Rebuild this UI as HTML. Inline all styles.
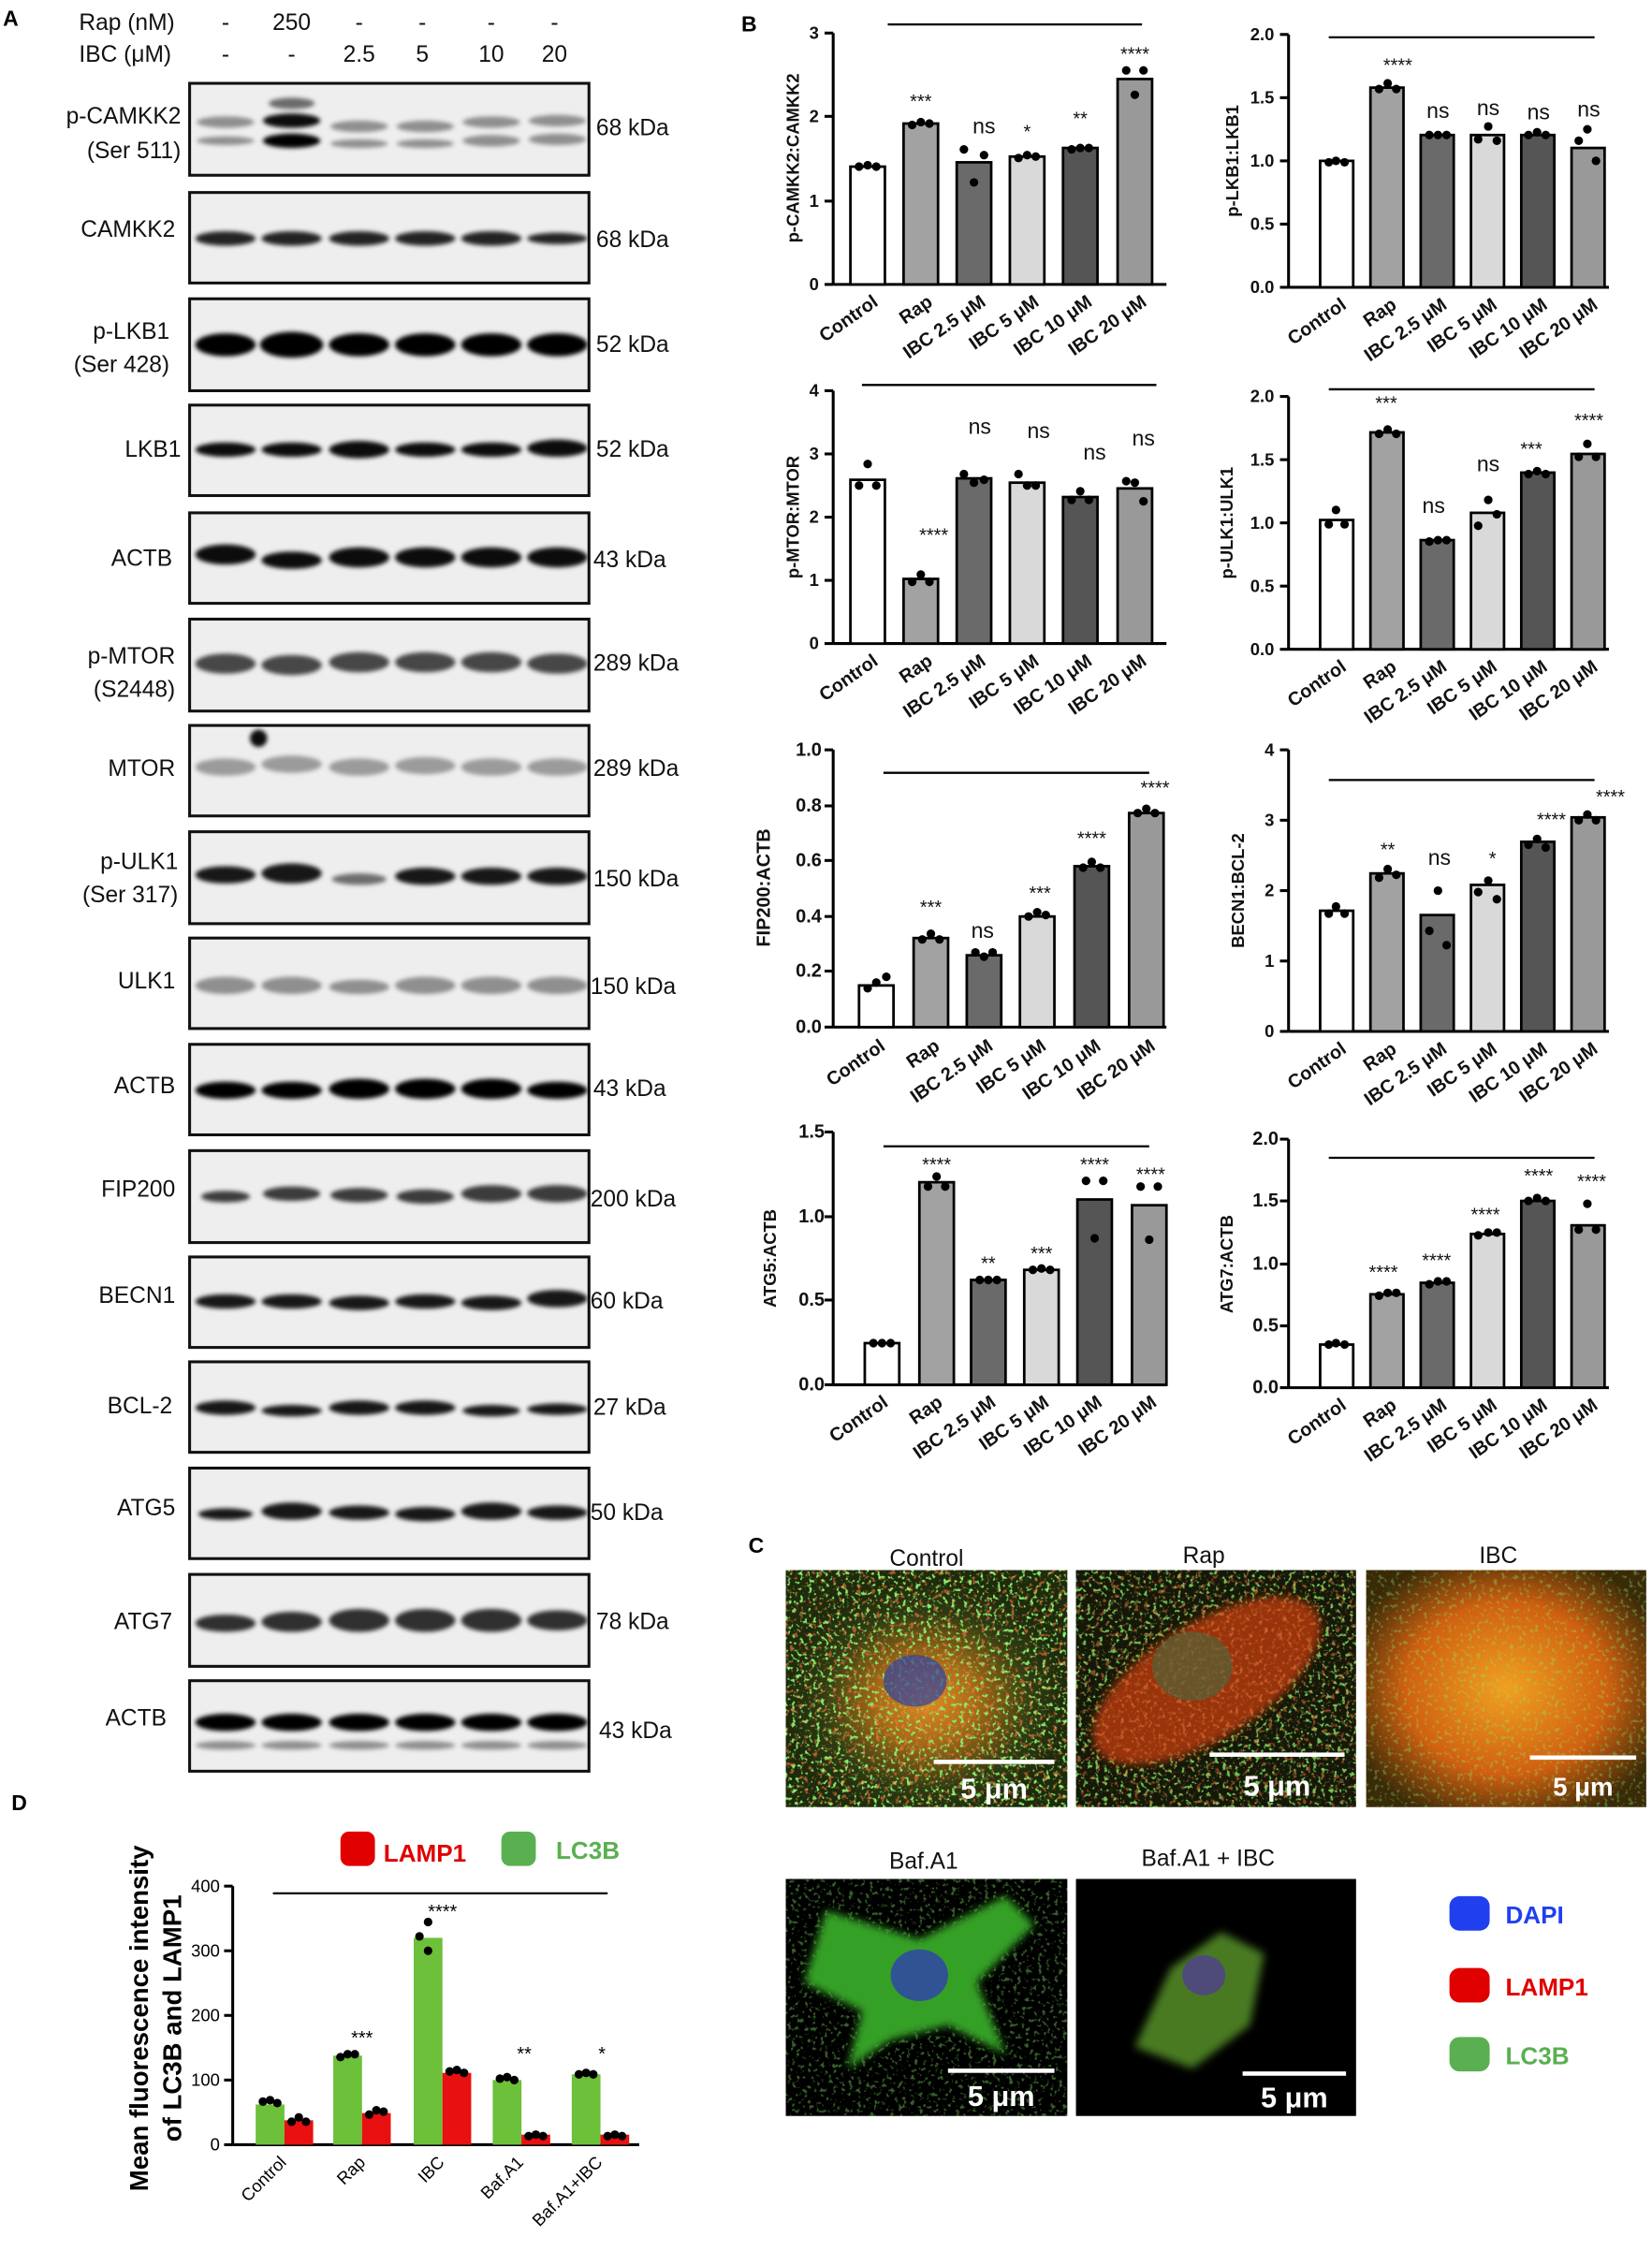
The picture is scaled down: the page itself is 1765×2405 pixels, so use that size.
<!DOCTYPE html>
<html><head><meta charset="utf-8"><style>
html,body{margin:0;padding:0;background:#fff;}
svg{display:block;}
text{font-family:"Liberation Sans",Arial,sans-serif;}
</style></head><body>
<svg width="1765" height="2405" viewBox="0 0 1150 1567" preserveAspectRatio="none" xmlns="http://www.w3.org/2000/svg">
<defs>
<filter id="bl" x="-50%" y="-100%" width="200%" height="300%"><feGaussianBlur stdDeviation="1.6"/></filter>
<filter id="bl2"><feGaussianBlur stdDeviation="3"/></filter>
<filter id="spG" x="0" y="0" width="100%" height="100%"><feTurbulence type="fractalNoise" baseFrequency="0.35" numOctaves="2" seed="3"/><feColorMatrix values="0 0 0 0 0.25  0 0 0 0 0.85  0 0 0 0 0.15  7 0 0 0 -4"/></filter>
<filter id="spR" x="0" y="0" width="100%" height="100%"><feTurbulence type="fractalNoise" baseFrequency="0.3" numOctaves="2" seed="9"/><feColorMatrix values="0 0 0 0 0.95  0 0 0 0 0.2  0 0 0 0 0.05  7 0 0 0 -4.1"/></filter>
<radialGradient id="cellA" cx="50%" cy="55%" r="50%"><stop offset="0" stop-color="#e08a20"/><stop offset="0.35" stop-color="#a86a18"/><stop offset="0.75" stop-color="#2e3a12"/><stop offset="1" stop-color="#1e2a0c"/></radialGradient>
<radialGradient id="cellC" cx="50%" cy="50%" r="60%"><stop offset="0" stop-color="#f0a020"/><stop offset="0.6" stop-color="#d06010"/><stop offset="1" stop-color="#3a2a08"/></radialGradient>
</defs>
<rect width="1150" height="1567" fill="#fff"/>

<!-- Panel A -->
<text x="2" y="18" font-size="15" font-weight="bold">A</text>
<g font-size="16" fill="#111">
<text x="55" y="21">Rap (nM)</text><text x="55" y="43">IBC (μM)</text>
<g text-anchor="middle">
<text x="157" y="21">-</text><text x="203" y="21">250</text><text x="250" y="21">-</text><text x="294" y="21">-</text><text x="342" y="21">-</text><text x="386" y="21">-</text>
<text x="157" y="43">-</text><text x="203" y="43">-</text><text x="250" y="43">2.5</text><text x="294" y="43">5</text><text x="342" y="43">10</text><text x="386" y="43">20</text>
</g></g>

<g stroke="#111" stroke-width="2" fill="#eeeeee">
<rect x="132" y="58" width="278" height="64"/><rect x="132" y="134" width="278" height="63"/>
<rect x="132" y="208" width="278" height="64"/><rect x="132" y="282" width="278" height="63"/>
<rect x="132" y="357" width="278" height="63"/><rect x="132" y="431" width="278" height="64"/>
<rect x="132" y="505" width="278" height="63"/><rect x="132" y="579" width="278" height="64"/>
<rect x="132" y="653" width="278" height="63"/><rect x="132" y="727" width="278" height="63"/>
<rect x="132" y="801" width="278" height="64"/><rect x="132" y="875" width="278" height="63"/>
<rect x="132" y="948" width="278" height="63"/><rect x="132" y="1022" width="278" height="63"/>
<rect x="132" y="1096" width="278" height="64"/><rect x="132" y="1170" width="278" height="63"/>
</g>
<g filter="url(#bl)" fill="#000">
<g opacity="0.4"><ellipse cx="157" cy="85" rx="20" ry="4"/><ellipse cx="250" cy="88" rx="20" ry="4"/><ellipse cx="296" cy="88" rx="20" ry="4"/><ellipse cx="342" cy="85" rx="20" ry="4"/><ellipse cx="388" cy="84" rx="20" ry="4"/>
<ellipse cx="157" cy="98" rx="20" ry="3"/><ellipse cx="250" cy="100" rx="20" ry="3"/><ellipse cx="296" cy="100" rx="20" ry="3"/><ellipse cx="342" cy="98" rx="20" ry="4"/><ellipse cx="388" cy="97" rx="20" ry="4"/></g>
<ellipse cx="203" cy="84" rx="20" ry="5" opacity="0.95"/><ellipse cx="203" cy="98" rx="20" ry="5" opacity="1"/><ellipse cx="203" cy="72" rx="16" ry="4" opacity="0.55"/>
<g opacity="0.85"><ellipse cx="157" cy="166" rx="21" ry="5"/><ellipse cx="203" cy="166" rx="21" ry="5"/><ellipse cx="250" cy="166" rx="21" ry="5"/><ellipse cx="296" cy="166" rx="21" ry="5"/><ellipse cx="342" cy="166" rx="21" ry="5"/><ellipse cx="388" cy="166" rx="21" ry="4"/></g>
<g opacity="1"><ellipse cx="157" cy="240" rx="21" ry="8"/><ellipse cx="203" cy="240" rx="22" ry="9"/><ellipse cx="250" cy="240" rx="21" ry="8"/><ellipse cx="296" cy="240" rx="21" ry="8"/><ellipse cx="342" cy="240" rx="21" ry="8"/><ellipse cx="388" cy="240" rx="21" ry="8"/></g>
<g opacity="0.95"><ellipse cx="157" cy="313" rx="21" ry="5"/><ellipse cx="203" cy="313" rx="21" ry="5"/><ellipse cx="250" cy="313" rx="21" ry="6"/><ellipse cx="296" cy="313" rx="21" ry="5"/><ellipse cx="342" cy="313" rx="21" ry="5"/><ellipse cx="388" cy="312" rx="21" ry="6"/></g>
<g opacity="0.95"><ellipse cx="157" cy="386" rx="21" ry="7"/><ellipse cx="203" cy="390" rx="21" ry="6"/><ellipse cx="250" cy="388" rx="21" ry="7"/><ellipse cx="296" cy="388" rx="21" ry="7"/><ellipse cx="342" cy="388" rx="21" ry="7"/><ellipse cx="388" cy="388" rx="21" ry="7"/></g>
<g opacity="0.7"><ellipse cx="157" cy="462" rx="21" ry="7"/><ellipse cx="203" cy="463" rx="21" ry="7"/><ellipse cx="250" cy="461" rx="21" ry="7"/><ellipse cx="296" cy="461" rx="21" ry="7"/><ellipse cx="342" cy="461" rx="21" ry="7"/><ellipse cx="388" cy="462" rx="21" ry="7"/></g>
<g opacity="0.35"><ellipse cx="157" cy="534" rx="21" ry="6"/><ellipse cx="203" cy="532" rx="21" ry="6"/><ellipse cx="250" cy="534" rx="21" ry="6"/><ellipse cx="296" cy="533" rx="21" ry="6"/><ellipse cx="342" cy="534" rx="21" ry="6"/><ellipse cx="388" cy="534" rx="21" ry="6"/></g>
<ellipse cx="180" cy="514" rx="6" ry="6" opacity="0.95"/>
<g opacity="0.9"><ellipse cx="157" cy="609" rx="21" ry="6"/><ellipse cx="203" cy="608" rx="21" ry="7"/><ellipse cx="250" cy="612" rx="19" ry="4" opacity="0.6"/><ellipse cx="296" cy="610" rx="21" ry="6"/><ellipse cx="342" cy="610" rx="21" ry="6"/><ellipse cx="388" cy="610" rx="21" ry="6"/></g>
<g opacity="0.4"><ellipse cx="157" cy="686" rx="21" ry="6"/><ellipse cx="203" cy="686" rx="21" ry="6"/><ellipse cx="250" cy="687" rx="21" ry="5"/><ellipse cx="296" cy="686" rx="21" ry="6"/><ellipse cx="342" cy="686" rx="21" ry="6"/><ellipse cx="388" cy="686" rx="21" ry="6"/></g>
<g opacity="1"><ellipse cx="157" cy="759" rx="21" ry="6"/><ellipse cx="203" cy="759" rx="21" ry="6"/><ellipse cx="250" cy="758" rx="21" ry="7"/><ellipse cx="296" cy="758" rx="21" ry="7"/><ellipse cx="342" cy="758" rx="21" ry="7"/><ellipse cx="388" cy="759" rx="21" ry="6"/></g>
<g opacity="0.75"><ellipse cx="157" cy="833" rx="17" ry="4"/><ellipse cx="203" cy="831" rx="20" ry="5"/><ellipse cx="250" cy="832" rx="20" ry="5"/><ellipse cx="296" cy="833" rx="20" ry="5"/><ellipse cx="342" cy="831" rx="21" ry="6"/><ellipse cx="388" cy="831" rx="21" ry="6"/></g>
<g opacity="0.9"><ellipse cx="157" cy="906" rx="21" ry="5"/><ellipse cx="203" cy="906" rx="21" ry="5"/><ellipse cx="250" cy="907" rx="21" ry="5"/><ellipse cx="296" cy="906" rx="21" ry="5"/><ellipse cx="342" cy="907" rx="21" ry="5"/><ellipse cx="388" cy="904" rx="21" ry="6"/></g>
<g opacity="0.9"><ellipse cx="157" cy="980" rx="21" ry="5"/><ellipse cx="203" cy="982" rx="21" ry="4"/><ellipse cx="250" cy="980" rx="21" ry="5"/><ellipse cx="296" cy="980" rx="21" ry="5"/><ellipse cx="342" cy="982" rx="20" ry="4"/><ellipse cx="388" cy="981" rx="21" ry="4"/></g>
<g opacity="0.9"><ellipse cx="157" cy="1054" rx="19" ry="4"/><ellipse cx="203" cy="1052" rx="21" ry="6"/><ellipse cx="250" cy="1053" rx="21" ry="5"/><ellipse cx="296" cy="1054" rx="21" ry="5"/><ellipse cx="342" cy="1052" rx="21" ry="6"/><ellipse cx="388" cy="1053" rx="21" ry="5"/></g>
<g opacity="0.8"><ellipse cx="157" cy="1130" rx="21" ry="6"/><ellipse cx="203" cy="1129" rx="21" ry="7"/><ellipse cx="250" cy="1128" rx="21" ry="8"/><ellipse cx="296" cy="1128" rx="21" ry="8"/><ellipse cx="342" cy="1128" rx="21" ry="8"/><ellipse cx="388" cy="1128" rx="21" ry="7"/></g>
<g opacity="1"><ellipse cx="157" cy="1199" rx="21" ry="6"/><ellipse cx="203" cy="1199" rx="21" ry="6"/><ellipse cx="250" cy="1199" rx="21" ry="6"/><ellipse cx="296" cy="1199" rx="21" ry="6"/><ellipse cx="342" cy="1199" rx="21" ry="6"/><ellipse cx="388" cy="1199" rx="21" ry="6"/></g>
<g opacity="0.4"><ellipse cx="157" cy="1215" rx="21" ry="3"/><ellipse cx="203" cy="1215" rx="21" ry="3"/><ellipse cx="250" cy="1215" rx="21" ry="3"/><ellipse cx="296" cy="1215" rx="21" ry="3"/><ellipse cx="342" cy="1215" rx="21" ry="3"/><ellipse cx="388" cy="1215" rx="21" ry="3"/></g>
</g>

<g font-size="16" fill="#111" text-anchor="end">
<text x="126" y="86">p-CAMKK2</text><text x="126" y="110">(Ser 511)</text>
<text x="122" y="165">CAMKK2</text>
<text x="118" y="236">p-LKB1</text><text x="118" y="259">(Ser 428)</text>
<text x="126" y="318">LKB1</text>
<text x="120" y="394">ACTB</text>
<text x="122" y="462">p-MTOR</text><text x="122" y="485">(S2448)</text>
<text x="122" y="540">MTOR</text>
<text x="124" y="605">p-ULK1</text><text x="124" y="628">(Ser 317)</text>
<text x="122" y="688">ULK1</text>
<text x="122" y="761">ACTB</text>
<text x="122" y="833">FIP200</text>
<text x="122" y="907">BECN1</text>
<text x="120" y="984">BCL-2</text>
<text x="122" y="1055">ATG5</text>
<text x="120" y="1134">ATG7</text>
<text x="116" y="1201">ACTB</text>
</g>
<g font-size="16" fill="#111">
<text x="415" y="94">68 kDa</text><text x="415" y="172">68 kDa</text><text x="415" y="245">52 kDa</text><text x="415" y="318">52 kDa</text>
<text x="413" y="395">43 kDa</text><text x="413" y="467">289 kDa</text><text x="413" y="540">289 kDa</text><text x="413" y="617">150 kDa</text>
<text x="411" y="692">150 kDa</text><text x="413" y="763">43 kDa</text><text x="411" y="840">200 kDa</text><text x="411" y="911">60 kDa</text>
<text x="413" y="985">27 kDa</text><text x="411" y="1058">50 kDa</text><text x="415" y="1134">78 kDa</text><text x="417" y="1210">43 kDa</text>
</g>

<!-- Panel B -->
<text x="516" y="22" font-size="15" font-weight="bold">B</text>
<g font-size="12" font-weight="bold" fill="#111">
<g>
<line x1="580" y1="23" x2="580" y2="198" stroke="#000" stroke-width="2"/>
<line x1="580" y1="198" x2="812" y2="198" stroke="#000" stroke-width="2"/>
<g stroke="#000" stroke-width="2"><line x1="574" y1="23" x2="580" y2="23"/><line x1="574" y1="81" x2="580" y2="81"/><line x1="574" y1="140" x2="580" y2="140"/><line x1="574" y1="198" x2="580" y2="198"/></g>
<g text-anchor="end"><text x="570" y="27">3</text><text x="570" y="85">2</text><text x="570" y="144">1</text><text x="570" y="202">0</text></g>
<text transform="translate(556 110) rotate(-90)" text-anchor="middle">p-CAMKK2:CAMKK2</text>
<line x1="618" y1="17" x2="795" y2="17" stroke="#000" stroke-width="1.5"/>
<g stroke="#000" stroke-width="1.8">
<rect x="592" y="116" width="24" height="82" fill="#fff"/><rect x="629" y="86" width="24" height="112" fill="#a2a2a2"/><rect x="666" y="113" width="24" height="85" fill="#6a6a6a"/><rect x="703" y="109" width="24" height="89" fill="#d9d9d9"/><rect x="740" y="103" width="24" height="95" fill="#555"/><rect x="778" y="55" width="24" height="143" fill="#999"/>
</g>
<g fill="#000"><circle cx="598" cy="116" r="3"/><circle cx="604" cy="115" r="3"/><circle cx="610" cy="116" r="3"/><circle cx="635" cy="87" r="3"/><circle cx="641" cy="85" r="3"/><circle cx="647" cy="86" r="3"/><circle cx="671" cy="104" r="3"/><circle cx="678" cy="127" r="3"/><circle cx="685" cy="108" r="3"/><circle cx="709" cy="110" r="3"/><circle cx="715" cy="108" r="3"/><circle cx="721" cy="109" r="3"/><circle cx="746" cy="104" r="3"/><circle cx="752" cy="103" r="3"/><circle cx="758" cy="103" r="3"/><circle cx="784" cy="49" r="3"/><circle cx="790" cy="66" r="3"/><circle cx="796" cy="49" r="3"/></g>
<g text-anchor="middle" font-weight="normal" font-size="13"><text x="641" y="75">***</text><text x="685" y="93" font-size="15">ns</text><text x="715" y="96">*</text><text x="752" y="87">**</text><text x="790" y="42">****</text></g>
<g text-anchor="end" font-size="13"><text transform="translate(612 212) rotate(-35)">Control</text><text transform="translate(650 212) rotate(-35)">Rap</text><text transform="translate(687 212) rotate(-35)">IBC 2.5 μM</text><text transform="translate(724 212) rotate(-35)">IBC 5 μM</text><text transform="translate(761 212) rotate(-35)">IBC 10 μM</text><text transform="translate(799 212) rotate(-35)">IBC 20 μM</text></g>
</g>
<g>
<line x1="897" y1="24" x2="897" y2="200" stroke="#000" stroke-width="2"/>
<line x1="897" y1="200" x2="1120" y2="200" stroke="#000" stroke-width="2"/>
<g stroke="#000" stroke-width="2"><line x1="891" y1="24" x2="897" y2="24"/><line x1="891" y1="68" x2="897" y2="68"/><line x1="891" y1="112" x2="897" y2="112"/><line x1="891" y1="156" x2="897" y2="156"/><line x1="891" y1="200" x2="897" y2="200"/></g>
<g text-anchor="end"><text x="887" y="28">2.0</text><text x="887" y="72">1.5</text><text x="887" y="116">1.0</text><text x="887" y="160">0.5</text><text x="887" y="204">0.0</text></g>
<text transform="translate(862 112) rotate(-90)" text-anchor="middle">p-LKB1:LKB1</text>
<line x1="925" y1="26" x2="1110" y2="26" stroke="#000" stroke-width="1.5"/>
<g stroke="#000" stroke-width="1.8">
<rect x="919" y="112" width="23" height="88" fill="#fff"/><rect x="954" y="61" width="23" height="139" fill="#a2a2a2"/><rect x="989" y="94" width="23" height="106" fill="#6a6a6a"/><rect x="1024" y="94" width="23" height="106" fill="#d9d9d9"/><rect x="1059" y="94" width="23" height="106" fill="#555"/><rect x="1094" y="103" width="23" height="97" fill="#999"/>
</g>
<g fill="#000"><circle cx="925" cy="113" r="3"/><circle cx="930" cy="112" r="3"/><circle cx="936" cy="113" r="3"/><circle cx="960" cy="62" r="3"/><circle cx="966" cy="58" r="3"/><circle cx="972" cy="62" r="3"/><circle cx="995" cy="94" r="3"/><circle cx="1001" cy="94" r="3"/><circle cx="1007" cy="94" r="3"/><circle cx="1029" cy="97" r="3"/><circle cx="1036" cy="88" r="3"/><circle cx="1042" cy="98" r="3"/><circle cx="1064" cy="94" r="3"/><circle cx="1070" cy="92" r="3"/><circle cx="1076" cy="94" r="3"/><circle cx="1099" cy="98" r="3"/><circle cx="1105" cy="90" r="3"/><circle cx="1111" cy="112" r="3"/></g>
<g text-anchor="middle" font-weight="normal" font-size="15"><text x="973" y="50" font-size="13">****</text><text x="1001" y="82">ns</text><text x="1036" y="80">ns</text><text x="1071" y="83">ns</text><text x="1106" y="81">ns</text></g>
<g text-anchor="end" font-size="13"><text transform="translate(938 214) rotate(-35)">Control</text><text transform="translate(973 214) rotate(-35)">Rap</text><text transform="translate(1008 214) rotate(-35)">IBC 2.5 μM</text><text transform="translate(1043 214) rotate(-35)">IBC 5 μM</text><text transform="translate(1078 214) rotate(-35)">IBC 10 μM</text><text transform="translate(1113 214) rotate(-35)">IBC 20 μM</text></g>
</g>
<g>
<line x1="580" y1="272" x2="580" y2="448" stroke="#000" stroke-width="2"/>
<line x1="580" y1="448" x2="812" y2="448" stroke="#000" stroke-width="2"/>
<g stroke="#000" stroke-width="2"><line x1="574" y1="272" x2="580" y2="272"/><line x1="574" y1="316" x2="580" y2="316"/><line x1="574" y1="360" x2="580" y2="360"/><line x1="574" y1="404" x2="580" y2="404"/><line x1="574" y1="448" x2="580" y2="448"/></g>
<g text-anchor="end"><text x="570" y="276">4</text><text x="570" y="320">3</text><text x="570" y="364">2</text><text x="570" y="408">1</text><text x="570" y="452">0</text></g>
<text transform="translate(556 360) rotate(-90)" text-anchor="middle">p-MTOR:MTOR</text>
<line x1="600" y1="268" x2="805" y2="268" stroke="#000" stroke-width="1.5"/>
<g stroke="#000" stroke-width="1.8">
<rect x="592" y="334" width="24" height="114" fill="#fff"/><rect x="629" y="403" width="24" height="45" fill="#a2a2a2"/><rect x="666" y="333" width="24" height="115" fill="#6a6a6a"/><rect x="703" y="336" width="24" height="112" fill="#d9d9d9"/><rect x="740" y="346" width="24" height="102" fill="#555"/><rect x="778" y="340" width="24" height="108" fill="#999"/>
</g>
<g fill="#000"><circle cx="598" cy="338" r="3"/><circle cx="604" cy="323" r="3"/><circle cx="610" cy="338" r="3"/><circle cx="635" cy="405" r="3"/><circle cx="641" cy="400" r="3"/><circle cx="647" cy="405" r="3"/><circle cx="671" cy="330" r="3"/><circle cx="678" cy="336" r="3"/><circle cx="685" cy="334" r="3"/><circle cx="709" cy="330" r="3"/><circle cx="715" cy="338" r="3"/><circle cx="721" cy="338" r="3"/><circle cx="746" cy="348" r="3"/><circle cx="752" cy="342" r="3"/><circle cx="758" cy="348" r="3"/><circle cx="784" cy="335" r="3"/><circle cx="790" cy="336" r="3"/><circle cx="796" cy="349" r="3"/></g>
<g text-anchor="middle" font-weight="normal" font-size="15"><text x="650" y="377" font-size="13">****</text><text x="682" y="302">ns</text><text x="723" y="305">ns</text><text x="762" y="320">ns</text><text x="796" y="310">ns</text></g>
<g text-anchor="end" font-size="13"><text transform="translate(612 462) rotate(-35)">Control</text><text transform="translate(650 462) rotate(-35)">Rap</text><text transform="translate(687 462) rotate(-35)">IBC 2.5 μM</text><text transform="translate(724 462) rotate(-35)">IBC 5 μM</text><text transform="translate(761 462) rotate(-35)">IBC 10 μM</text><text transform="translate(799 462) rotate(-35)">IBC 20 μM</text></g>
</g>
<g>
<line x1="897" y1="276" x2="897" y2="452" stroke="#000" stroke-width="2"/>
<line x1="897" y1="452" x2="1120" y2="452" stroke="#000" stroke-width="2"/>
<g stroke="#000" stroke-width="2"><line x1="891" y1="276" x2="897" y2="276"/><line x1="891" y1="320" x2="897" y2="320"/><line x1="891" y1="364" x2="897" y2="364"/><line x1="891" y1="408" x2="897" y2="408"/><line x1="891" y1="452" x2="897" y2="452"/></g>
<g text-anchor="end"><text x="887" y="280">2.0</text><text x="887" y="324">1.5</text><text x="887" y="368">1.0</text><text x="887" y="412">0.5</text><text x="887" y="456">0.0</text></g>
<text transform="translate(858 364) rotate(-90)" text-anchor="middle">p-ULK1:ULK1</text>
<line x1="925" y1="271" x2="1110" y2="271" stroke="#000" stroke-width="1.5"/>
<g stroke="#000" stroke-width="1.8">
<rect x="919" y="362" width="23" height="90" fill="#fff"/><rect x="954" y="301" width="23" height="151" fill="#a2a2a2"/><rect x="989" y="376" width="23" height="76" fill="#6a6a6a"/><rect x="1024" y="357" width="23" height="95" fill="#d9d9d9"/><rect x="1059" y="329" width="23" height="123" fill="#555"/><rect x="1094" y="316" width="23" height="136" fill="#999"/>
</g>
<g fill="#000"><circle cx="925" cy="365" r="3"/><circle cx="930" cy="355" r="3"/><circle cx="936" cy="365" r="3"/><circle cx="960" cy="302" r="3"/><circle cx="966" cy="299" r="3"/><circle cx="972" cy="302" r="3"/><circle cx="995" cy="377" r="3"/><circle cx="1001" cy="376" r="3"/><circle cx="1007" cy="376" r="3"/><circle cx="1029" cy="366" r="3"/><circle cx="1036" cy="348" r="3"/><circle cx="1042" cy="358" r="3"/><circle cx="1064" cy="330" r="3"/><circle cx="1070" cy="328" r="3"/><circle cx="1076" cy="330" r="3"/><circle cx="1099" cy="318" r="3"/><circle cx="1105" cy="309" r="3"/><circle cx="1111" cy="318" r="3"/></g>
<g text-anchor="middle" font-weight="normal" font-size="15"><text x="965" y="285" font-size="13">***</text><text x="998" y="357">ns</text><text x="1036" y="328">ns</text><text x="1066" y="317" font-size="13">***</text><text x="1106" y="297" font-size="13">****</text></g>
<g text-anchor="end" font-size="13"><text transform="translate(938 466) rotate(-35)">Control</text><text transform="translate(973 466) rotate(-35)">Rap</text><text transform="translate(1008 466) rotate(-35)">IBC 2.5 μM</text><text transform="translate(1043 466) rotate(-35)">IBC 5 μM</text><text transform="translate(1078 466) rotate(-35)">IBC 10 μM</text><text transform="translate(1113 466) rotate(-35)">IBC 20 μM</text></g>
</g>
<g>
<line x1="580" y1="522" x2="580" y2="715" stroke="#000" stroke-width="2"/>
<line x1="580" y1="715" x2="812" y2="715" stroke="#000" stroke-width="2"/>
<g stroke="#000" stroke-width="2"><line x1="574" y1="522" x2="580" y2="522"/><line x1="574" y1="561" x2="580" y2="561"/><line x1="574" y1="599" x2="580" y2="599"/><line x1="574" y1="638" x2="580" y2="638"/><line x1="574" y1="676" x2="580" y2="676"/><line x1="574" y1="715" x2="580" y2="715"/></g>
<g text-anchor="end" font-size="13"><text x="572" y="526">1.0</text><text x="572" y="565">0.8</text><text x="572" y="603">0.6</text><text x="572" y="642">0.4</text><text x="572" y="680">0.2</text><text x="572" y="719">0.0</text></g>
<text transform="translate(536 618) rotate(-90)" text-anchor="middle" font-size="13">FIP200:ACTB</text>
<line x1="615" y1="538" x2="800" y2="538" stroke="#000" stroke-width="1.5"/>
<g stroke="#000" stroke-width="1.8">
<rect x="598" y="686" width="24" height="29" fill="#fff"/><rect x="636" y="653" width="24" height="62" fill="#a2a2a2"/><rect x="673" y="665" width="24" height="50" fill="#6a6a6a"/><rect x="710" y="638" width="24" height="77" fill="#d9d9d9"/><rect x="748" y="603" width="24" height="112" fill="#555"/><rect x="786" y="566" width="24" height="149" fill="#999"/>
</g>
<g fill="#000"><circle cx="604" cy="688" r="3"/><circle cx="610" cy="684" r="3"/><circle cx="617" cy="680" r="3"/><circle cx="642" cy="654" r="3"/><circle cx="648" cy="650" r="3"/><circle cx="654" cy="654" r="3"/><circle cx="679" cy="663" r="3"/><circle cx="685" cy="666" r="3"/><circle cx="691" cy="663" r="3"/><circle cx="716" cy="638" r="3"/><circle cx="722" cy="635" r="3"/><circle cx="728" cy="637" r="3"/><circle cx="754" cy="604" r="3"/><circle cx="760" cy="600" r="3"/><circle cx="766" cy="604" r="3"/><circle cx="792" cy="566" r="3"/><circle cx="798" cy="563" r="3"/><circle cx="804" cy="566" r="3"/></g>
<g text-anchor="middle" font-weight="normal" font-size="13"><text x="648" y="636">***</text><text x="684" y="653" font-size="15">ns</text><text x="724" y="626">***</text><text x="760" y="588">****</text><text x="804" y="553">****</text></g>
<g text-anchor="end" font-size="13"><text transform="translate(617 730) rotate(-35)">Control</text><text transform="translate(655 730) rotate(-35)">Rap</text><text transform="translate(692 730) rotate(-35)">IBC 2.5 μM</text><text transform="translate(729 730) rotate(-35)">IBC 5 μM</text><text transform="translate(767 730) rotate(-35)">IBC 10 μM</text><text transform="translate(805 730) rotate(-35)">IBC 20 μM</text></g>
</g>
<g>
<line x1="897" y1="522" x2="897" y2="718" stroke="#000" stroke-width="2"/>
<line x1="897" y1="718" x2="1120" y2="718" stroke="#000" stroke-width="2"/>
<g stroke="#000" stroke-width="2"><line x1="891" y1="522" x2="897" y2="522"/><line x1="891" y1="571" x2="897" y2="571"/><line x1="891" y1="620" x2="897" y2="620"/><line x1="891" y1="669" x2="897" y2="669"/><line x1="891" y1="718" x2="897" y2="718"/></g>
<g text-anchor="end"><text x="887" y="526">4</text><text x="887" y="575">3</text><text x="887" y="624">2</text><text x="887" y="673">1</text><text x="887" y="722">0</text></g>
<text transform="translate(866 620) rotate(-90)" text-anchor="middle">BECN1:BCL-2</text>
<line x1="925" y1="543" x2="1110" y2="543" stroke="#000" stroke-width="1.5"/>
<g stroke="#000" stroke-width="1.8">
<rect x="919" y="634" width="23" height="84" fill="#fff"/><rect x="954" y="608" width="23" height="110" fill="#a2a2a2"/><rect x="989" y="637" width="23" height="81" fill="#6a6a6a"/><rect x="1024" y="616" width="23" height="102" fill="#d9d9d9"/><rect x="1059" y="586" width="23" height="132" fill="#555"/><rect x="1094" y="569" width="23" height="149" fill="#999"/>
</g>
<g fill="#000"><circle cx="925" cy="636" r="3"/><circle cx="930" cy="631" r="3"/><circle cx="936" cy="636" r="3"/><circle cx="960" cy="611" r="3"/><circle cx="966" cy="605" r="3"/><circle cx="972" cy="609" r="3"/><circle cx="995" cy="648" r="3"/><circle cx="1001" cy="620" r="3"/><circle cx="1007" cy="658" r="3"/><circle cx="1029" cy="621" r="3"/><circle cx="1036" cy="613" r="3"/><circle cx="1042" cy="626" r="3"/><circle cx="1064" cy="588" r="3"/><circle cx="1070" cy="584" r="3"/><circle cx="1076" cy="590" r="3"/><circle cx="1099" cy="571" r="3"/><circle cx="1105" cy="567" r="3"/><circle cx="1111" cy="571" r="3"/></g>
<g text-anchor="middle" font-weight="normal" font-size="13"><text x="966" y="596">**</text><text x="1002" y="602" font-size="15">ns</text><text x="1039" y="602">*</text><text x="1080" y="575">****</text><text x="1121" y="559">****</text></g>
<g text-anchor="end" font-size="13"><text transform="translate(938 732) rotate(-35)">Control</text><text transform="translate(973 732) rotate(-35)">Rap</text><text transform="translate(1008 732) rotate(-35)">IBC 2.5 μM</text><text transform="translate(1043 732) rotate(-35)">IBC 5 μM</text><text transform="translate(1078 732) rotate(-35)">IBC 10 μM</text><text transform="translate(1113 732) rotate(-35)">IBC 20 μM</text></g>
</g>
<g>
<line x1="580" y1="788" x2="580" y2="964" stroke="#000" stroke-width="2"/>
<line x1="580" y1="964" x2="812" y2="964" stroke="#000" stroke-width="2"/>
<g stroke="#000" stroke-width="2"><line x1="574" y1="788" x2="580" y2="788"/><line x1="574" y1="847" x2="580" y2="847"/><line x1="574" y1="905" x2="580" y2="905"/><line x1="574" y1="964" x2="580" y2="964"/></g>
<g text-anchor="end" font-size="13"><text x="574" y="792">1.5</text><text x="574" y="851">1.0</text><text x="574" y="909">0.5</text><text x="574" y="968">0.0</text></g>
<text transform="translate(540 876) rotate(-90)" text-anchor="middle">ATG5:ACTB</text>
<line x1="615" y1="798" x2="800" y2="798" stroke="#000" stroke-width="1.5"/>
<g stroke="#000" stroke-width="1.8">
<rect x="602" y="935" width="24" height="29" fill="#fff"/><rect x="640" y="823" width="24" height="141" fill="#a2a2a2"/><rect x="676" y="891" width="24" height="73" fill="#6a6a6a"/><rect x="713" y="884" width="24" height="80" fill="#d9d9d9"/><rect x="750" y="835" width="24" height="129" fill="#555"/><rect x="788" y="839" width="24" height="125" fill="#999"/>
</g>
<g fill="#000"><circle cx="608" cy="935" r="3"/><circle cx="614" cy="935" r="3"/><circle cx="620" cy="935" r="3"/><circle cx="646" cy="826" r="3"/><circle cx="652" cy="819" r="3"/><circle cx="658" cy="826" r="3"/><circle cx="682" cy="891" r="3"/><circle cx="688" cy="891" r="3"/><circle cx="694" cy="891" r="3"/><circle cx="719" cy="884" r="3"/><circle cx="725" cy="883" r="3"/><circle cx="731" cy="884" r="3"/><circle cx="756" cy="822" r="3"/><circle cx="762" cy="862" r="3"/><circle cx="768" cy="822" r="3"/><circle cx="794" cy="826" r="3"/><circle cx="800" cy="863" r="3"/><circle cx="806" cy="826" r="3"/></g>
<g text-anchor="middle" font-weight="normal" font-size="13"><text x="652" y="815">****</text><text x="688" y="884">**</text><text x="725" y="877">***</text><text x="762" y="815">****</text><text x="801" y="822">****</text></g>
<g text-anchor="end" font-size="13"><text transform="translate(619 978) rotate(-35)">Control</text><text transform="translate(657 978) rotate(-35)">Rap</text><text transform="translate(694 978) rotate(-35)">IBC 2.5 μM</text><text transform="translate(731 978) rotate(-35)">IBC 5 μM</text><text transform="translate(768 978) rotate(-35)">IBC 10 μM</text><text transform="translate(806 978) rotate(-35)">IBC 20 μM</text></g>
</g>
<g>
<line x1="897" y1="793" x2="897" y2="966" stroke="#000" stroke-width="2"/>
<line x1="897" y1="966" x2="1120" y2="966" stroke="#000" stroke-width="2"/>
<g stroke="#000" stroke-width="2"><line x1="891" y1="793" x2="897" y2="793"/><line x1="891" y1="836" x2="897" y2="836"/><line x1="891" y1="880" x2="897" y2="880"/><line x1="891" y1="923" x2="897" y2="923"/><line x1="891" y1="966" x2="897" y2="966"/></g>
<g text-anchor="end" font-size="13"><text x="890" y="797">2.0</text><text x="890" y="840">1.5</text><text x="890" y="884">1.0</text><text x="890" y="927">0.5</text><text x="890" y="970">0.0</text></g>
<text transform="translate(858 880) rotate(-90)" text-anchor="middle">ATG7:ACTB</text>
<line x1="925" y1="806" x2="1110" y2="806" stroke="#000" stroke-width="1.5"/>
<g stroke="#000" stroke-width="1.8">
<rect x="919" y="936" width="23" height="30" fill="#fff"/><rect x="954" y="901" width="23" height="65" fill="#a2a2a2"/><rect x="989" y="893" width="23" height="73" fill="#6a6a6a"/><rect x="1024" y="859" width="23" height="107" fill="#d9d9d9"/><rect x="1059" y="836" width="23" height="130" fill="#555"/><rect x="1094" y="853" width="23" height="113" fill="#999"/>
</g>
<g fill="#000"><circle cx="925" cy="936" r="3"/><circle cx="930" cy="935" r="3"/><circle cx="936" cy="936" r="3"/><circle cx="960" cy="902" r="3"/><circle cx="966" cy="900" r="3"/><circle cx="972" cy="900" r="3"/><circle cx="995" cy="894" r="3"/><circle cx="1001" cy="892" r="3"/><circle cx="1007" cy="892" r="3"/><circle cx="1029" cy="860" r="3"/><circle cx="1036" cy="858" r="3"/><circle cx="1042" cy="858" r="3"/><circle cx="1064" cy="836" r="3"/><circle cx="1070" cy="834" r="3"/><circle cx="1076" cy="836" r="3"/><circle cx="1099" cy="856" r="3"/><circle cx="1105" cy="838" r="3"/><circle cx="1111" cy="856" r="3"/></g>
<g text-anchor="middle" font-weight="normal" font-size="13"><text x="963" y="890">****</text><text x="1000" y="882">****</text><text x="1034" y="850">****</text><text x="1071" y="823">****</text><text x="1108" y="827">****</text></g>
<g text-anchor="end" font-size="13"><text transform="translate(938 980) rotate(-35)">Control</text><text transform="translate(973 980) rotate(-35)">Rap</text><text transform="translate(1008 980) rotate(-35)">IBC 2.5 μM</text><text transform="translate(1043 980) rotate(-35)">IBC 5 μM</text><text transform="translate(1078 980) rotate(-35)">IBC 10 μM</text><text transform="translate(1113 980) rotate(-35)">IBC 20 μM</text></g>
</g>
</g>

<!-- Panel C -->
<text x="521" y="1081" font-size="15" font-weight="bold">C</text>
<g font-size="16" text-anchor="middle" fill="#111">
<text x="645" y="1090">Control</text><text x="838" y="1088">Rap</text><text x="1043" y="1088">IBC</text>
<text x="643" y="1301">Baf.A1</text><text x="841" y="1299">Baf.A1   + IBC</text>
</g>
<rect x="547" y="1093" width="196" height="165" fill="url(#cellA)"/>
<rect x="547" y="1093" width="196" height="165" filter="url(#spG)"/>
<rect x="547" y="1093" width="196" height="165" filter="url(#spR)" opacity="0.6"/>
<ellipse cx="637" cy="1170" rx="22" ry="18" fill="#3040a0" opacity="0.7"/>
<rect x="749" y="1093" width="195" height="165" fill="#151808"/>
<rect x="749" y="1093" width="195" height="165" filter="url(#spG)" opacity="0.8"/>
<ellipse cx="840" cy="1170" rx="90" ry="40" fill="#b03810" opacity="0.85" filter="url(#bl2)" transform="rotate(-32 840 1170)"/>
<rect x="749" y="1093" width="195" height="165" filter="url(#spR)" opacity="0.5"/>
<ellipse cx="830" cy="1160" rx="28" ry="24" fill="#4a6a40" opacity="0.6"/>
<rect x="951" y="1093" width="195" height="165" fill="url(#cellC)"/>
<rect x="951" y="1093" width="195" height="165" filter="url(#spG)" opacity="0.35"/>
<rect x="547" y="1308" width="196" height="165" fill="#000"/>
<rect x="547" y="1308" width="196" height="165" filter="url(#spG)" opacity="0.4"/>
<path d="M575 1330 L640 1350 L700 1320 L720 1340 L680 1380 L700 1430 L660 1410 L620 1420 L590 1440 L600 1400 L560 1380 Z" fill="#35a025" filter="url(#bl2)"/>
<ellipse cx="640" cy="1375" rx="20" ry="18" fill="#3040b0" opacity="0.8"/>
<rect x="749" y="1308" width="195" height="165" fill="#000"/>
<path d="M790 1425 L815 1370 L850 1345 L880 1360 L870 1410 L830 1440 Z" fill="#4a7a20" filter="url(#bl2)"/>
<ellipse cx="838" cy="1375" rx="15" ry="14" fill="#504090" opacity="0.8"/>
<g fill="#fff" font-size="20" font-weight="bold" text-anchor="middle">
<rect x="650" y="1225" width="84" height="3"/><text x="692" y="1252">5 μm</text>
<rect x="842" y="1220" width="94" height="3"/><text x="889" y="1250">5 μm</text>
<rect x="1065" y="1222" width="74" height="3"/><text x="1102" y="1250" font-size="18">5 μm</text>
<rect x="660" y="1440" width="74" height="3"/><text x="697" y="1466">5 μm</text>
<rect x="865" y="1442" width="72" height="3"/><text x="901" y="1467">5 μm</text>
</g>
<g font-size="17" font-weight="bold">
<rect x="1009" y="1320" width="28" height="24" rx="7" fill="#2040f0"/><text x="1048" y="1339" fill="#2040f0">DAPI</text>
<rect x="1009" y="1370" width="28" height="24" rx="7" fill="#e00000"/><text x="1048" y="1389" fill="#e00000">LAMP1</text>
<rect x="1009" y="1418" width="28" height="24" rx="7" fill="#5ab050"/><text x="1048" y="1437" fill="#5ab050">LC3B</text>
</g>

<!-- Panel D -->
<text x="8" y="1260" font-size="15" font-weight="bold">D</text>
<g font-size="17" font-weight="bold">
<rect x="237" y="1275" width="24" height="24" rx="6" fill="#e00000"/><text x="267" y="1296" fill="#e00000">LAMP1</text>
<rect x="349" y="1275" width="24" height="24" rx="6" fill="#5ab050"/><text x="387" y="1294" fill="#5ab050">LC3B</text>
</g>
<g font-size="18" font-weight="bold" text-anchor="middle">
<text transform="translate(103 1405) rotate(-90)">Mean fluorescence intensity</text>
<text transform="translate(126 1405) rotate(-90)">of LC3B and LAMP1</text>
</g>
<line x1="162" y1="1313" x2="162" y2="1493" stroke="#000" stroke-width="2"/>
<line x1="162" y1="1493" x2="445" y2="1493" stroke="#000" stroke-width="2"/>
<g stroke="#000" stroke-width="2"><line x1="156" y1="1313" x2="162" y2="1313"/><line x1="156" y1="1358" x2="162" y2="1358"/><line x1="156" y1="1403" x2="162" y2="1403"/><line x1="156" y1="1448" x2="162" y2="1448"/><line x1="156" y1="1493" x2="162" y2="1493"/></g>
<g font-size="12" text-anchor="end"><text x="153" y="1317">400</text><text x="153" y="1362">300</text><text x="153" y="1407">200</text><text x="153" y="1452">100</text><text x="153" y="1497">0</text></g>
<line x1="190" y1="1318" x2="423" y2="1318" stroke="#000" stroke-width="1.5"/>
<g>
<rect x="178" y="1465" width="20" height="28" fill="#6cc03a"/><rect x="198" y="1476" width="20" height="17" fill="#e81010"/>
<rect x="232" y="1431" width="20" height="62" fill="#6cc03a"/><rect x="252" y="1471" width="20" height="22" fill="#e81010"/>
<rect x="288" y="1349" width="20" height="144" fill="#6cc03a"/><rect x="308" y="1443" width="20" height="50" fill="#e81010"/>
<rect x="343" y="1448" width="20" height="45" fill="#6cc03a"/><rect x="363" y="1486" width="20" height="7" fill="#e81010"/>
<rect x="398" y="1444" width="20" height="49" fill="#6cc03a"/><rect x="418" y="1486" width="20" height="7" fill="#e81010"/>
</g>
<g fill="#000">
<circle cx="183" cy="1463" r="3"/><circle cx="188" cy="1462" r="3"/><circle cx="193" cy="1464" r="3"/><circle cx="203" cy="1477" r="3"/><circle cx="208" cy="1474" r="3"/><circle cx="213" cy="1477" r="3"/>
<circle cx="237" cy="1432" r="3"/><circle cx="242" cy="1430" r="3"/><circle cx="247" cy="1430" r="3"/><circle cx="257" cy="1472" r="3"/><circle cx="262" cy="1469" r="3"/><circle cx="267" cy="1470" r="3"/>
<circle cx="292" cy="1348" r="3"/><circle cx="298" cy="1338" r="3"/><circle cx="298" cy="1358" r="3"/><circle cx="313" cy="1442" r="3"/><circle cx="318" cy="1441" r="3"/><circle cx="323" cy="1443" r="3"/>
<circle cx="348" cy="1447" r="3"/><circle cx="353" cy="1446" r="3"/><circle cx="358" cy="1448" r="3"/><circle cx="368" cy="1487" r="3"/><circle cx="373" cy="1486" r="3"/><circle cx="378" cy="1487" r="3"/>
<circle cx="403" cy="1444" r="3"/><circle cx="408" cy="1443" r="3"/><circle cx="413" cy="1444" r="3"/><circle cx="423" cy="1487" r="3"/><circle cx="428" cy="1486" r="3"/><circle cx="433" cy="1487" r="3"/>
</g>
<g font-size="13" text-anchor="middle"><text x="252" y="1423">***</text><text x="308" y="1335">****</text><text x="365" y="1434">**</text><text x="419" y="1434">*</text></g>
<g font-size="12" text-anchor="end"><text transform="translate(200 1506) rotate(-45)">Control</text><text transform="translate(255 1506) rotate(-45)">Rap</text><text transform="translate(310 1506) rotate(-45)">IBC</text><text transform="translate(365 1506) rotate(-45)">Baf.A1</text><text transform="translate(420 1506) rotate(-45)">Baf.A1+IBC</text></g>
</svg>
</body></html>
